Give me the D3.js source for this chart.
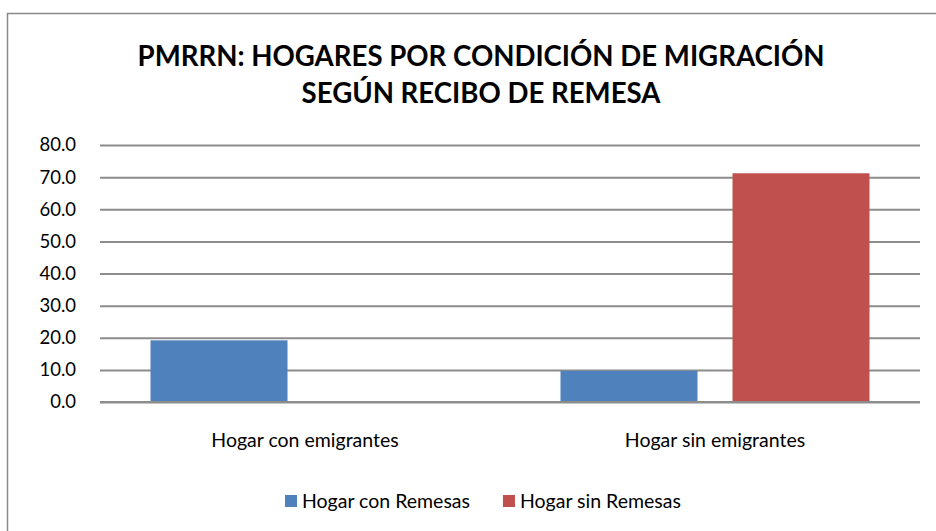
<!DOCTYPE html>
<html>
<head>
<meta charset="utf-8">
<script src="https://cdn.jsdelivr.net/npm/d3@7"></script>
<style>
    body { margin: 0; background: #fff; }
    svg { display: block; }
    text { font-family: Lato, "Open Sans", sans-serif; fill: #000; }
</style>
</head>
<body>
<svg id="chart"></svg>
<script>
// chart data
var titleLines = ["PMRRN: HOGARES POR CONDICIÓN DE MIGRACIÓN", "SEGÚN RECIBO DE REMESA"];
var categories = ["Hogar con emigrantes", "Hogar sin emigrantes"];
var seriesNames = ["Hogar con Remesas", "Hogar sin Remesas"];
var conRemesas = [19.2, 9.7];
var sinRemesas = [0, 71.2];
var yTicks = [0, 10, 20, 30, 40, 50, 60, 70, 80];
var colors = ["#4F81BD", "#C0504D"];

var width = 936;
var height = 531;
var margin = { "left": 100, "right": 16, "top": 145, "bottom": 129 };
var plotW = width - margin.left - margin.right;
var plotH = height - margin.top - margin.bottom;

var svg = d3.select("#chart")
    .attr("width", width)
    .attr("height", height);

// outer chart border (runs off the right and bottom edge)
svg.append("rect")
    .attr("x", 7.5)
    .attr("y", 13.5)
    .attr("width", width + 20)
    .attr("height", height + 20)
    .attr("fill", "none")
    .attr("stroke", "#8a8a8a")
    .attr("stroke-width", 1.5);

// title
svg.append("g").selectAll("text")
    .data(titleLines)
    .join("text")
    .attr("x", 481)
    .attr("y", (d, i) => 66 + i * 37)
    .attr("text-anchor", "middle")
    .style("font-size", "27.6px")
    .style("font-weight", "bold")
    .text(d => d);

var g = svg.append("g")
    .attr("transform", "translate(" + margin.left + "," + margin.top + ")");

// scales
var x0 = d3.scaleBand()
    .domain(categories)
    .range([0, plotW])
    .padding(0);

var x1 = d3.scaleBand()
    .domain(seriesNames)
    .range([0, x0.bandwidth()])
    .paddingInner(0.2035)
    .paddingOuter(0.2936);

var y = d3.scaleLinear()
    .domain([0, 80])
    .range([plotH, 0]);

// gridlines
g.append("g")
    .attr("class", "grid")
    .call(d3.axisLeft(y)
        .tickValues(yTicks)
        .tickSize(-plotW)
        .tickFormat(""))
    .call(a => a.select(".domain").remove())
    .call(a => a.selectAll("line")
        .attr("stroke", "#8c8c8c")
        .attr("stroke-width", 2));

// y labels
g.append("g")
    .call(d3.axisLeft(y)
        .tickValues(yTicks)
        .tickSize(0)
        .tickPadding(24)
        .tickFormat(d3.format(".1f")))
    .call(a => a.select(".domain").remove())
    .call(a => a.selectAll("text")
        .style("font-size", "18.5px")
        .style("font-family", "Lato, sans-serif"));

// bars
var rows = categories.map((c, i) => ({ cat: c, values: [conRemesas[i], sinRemesas[i]] }));

g.append("g").selectAll("g")
    .data(rows)
    .join("g")
    .attr("transform", d => "translate(" + x0(d.cat) + ",0)")
    .selectAll("rect")
    .data(d => d.values.map((v, j) => ({ key: seriesNames[j], value: v, color: colors[j] })))
    .join("rect")
    .attr("x", d => x1(d.key))
    .attr("y", d => y(d.value))
    .attr("width", x1.bandwidth())
    .attr("height", d => plotH - y(d.value))
    .attr("fill", d => d.color);

// x axis baseline
g.append("line")
    .attr("x1", 0)
    .attr("x2", plotW)
    .attr("y1", plotH)
    .attr("y2", plotH)
    .attr("stroke", "#8c8c8c")
    .attr("stroke-width", 2);

// category labels
g.append("g")
    .attr("transform", "translate(0," + plotH + ")")
    .call(d3.axisBottom(x0).tickSize(0).tickPadding(31))
    .call(a => a.select(".domain").remove())
    .call(a => a.selectAll("text")
        .style("font-size", "19.5px")
        .style("font-family", "Lato, sans-serif"));

// legend
var legend = svg.append("g")
    .attr("transform", "translate(285,508)");
var lx = 0;
seriesNames.forEach(function(name, i) {
    var item = legend.append("g").attr("transform", "translate(" + lx + ",0)");
    item.append("rect")
        .attr("x", 0)
        .attr("y", -13)
        .attr("width", 12)
        .attr("height", 12)
        .attr("fill", colors[i]);
    var t = item.append("text")
        .attr("x", 17)
        .style("font-size", "19.5px")
        .text(name);
    lx += 17 + t.node().getComputedTextLength() + 33;
});
</script>
</body>
</html>
